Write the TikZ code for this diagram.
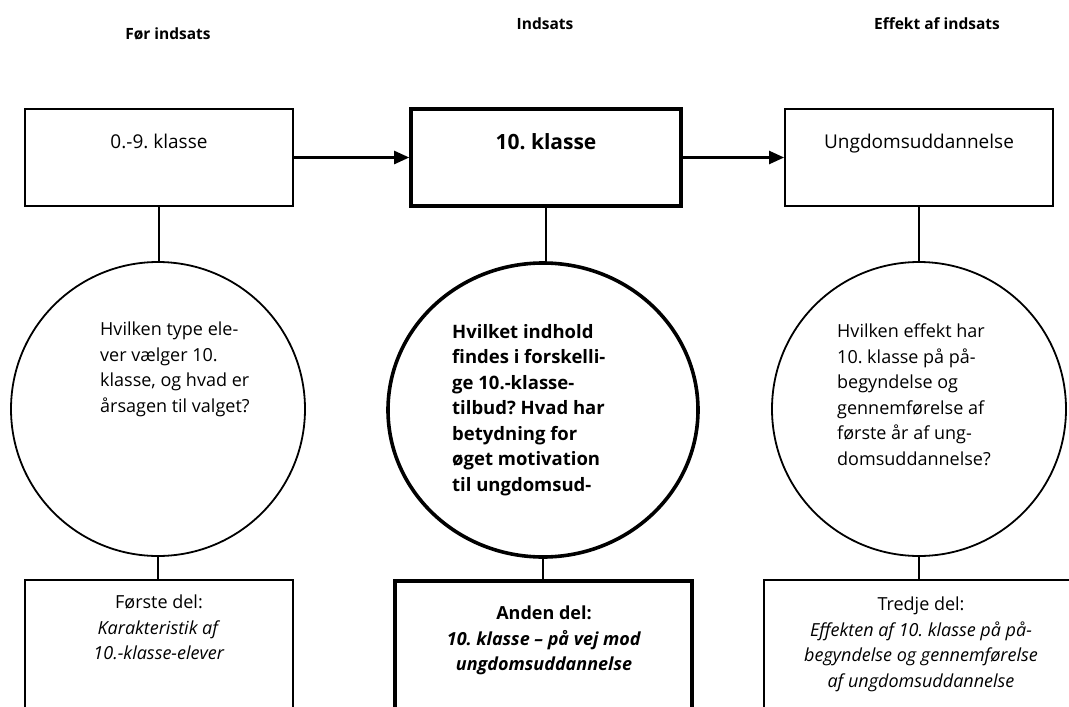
\documentclass[tikz,border=0pt]{standalone}
\usepackage{fontspec}
\setmainfont{Open Sans}
\usetikzlibrary{arrows.meta,shapes.geometric}
\frenchspacing
\begin{document}
\begin{tikzpicture}[x=1pt,y=-1pt,
  body/.style={font=\fontsize{18}{25.5}\selectfont},
  head/.style={font=\fontsize{15.5}{18}\selectfont\bfseries, anchor=base, inner sep=0pt},
  topbox/.style={draw, font=\fontsize{19}{25.5}\selectfont, line width=1.8pt, minimum width=268pt, inner xsep=0pt, inner ysep=0pt, text height=39pt, text depth=58pt},
  thickbox/.style={topbox, line width=3.6pt, minimum width=270pt, font=\fontsize{21}{25.5}\selectfont\bfseries, text height=40pt, text depth=57pt},
  botbox/.style={draw, line width=1.8pt, anchor=north, minimum height=200pt, inner sep=0pt},
  circ/.style={draw, circle, line width=1.8pt, minimum size=294pt, inner sep=0pt},
  ell/.style={draw, ellipse, line width=3.6pt, minimum width=310pt, minimum height=294pt, inner sep=0pt},
  qtext/.style={body, align=left, inner sep=0pt, anchor=north west},
  ptext/.style={body, align=center, inner sep=0pt, anchor=north},
  conn/.style={line width=2.6pt},
  arr/.style={line width=2.4pt, -{Triangle[length=15pt,width=13pt]}}
]
\useasboundingbox (0,0) rectangle (1069,707);
\clip (0,0) rectangle (1069,707);

% headers
\node[head] (h1) at (168,39) {Før indsats};
\node[head] (h2) at (545,29) {Indsats};
\node[head] (h3) at (937,29) {Effekt af indsats};

% top boxes
\node[topbox] (a) at (159,157.5) {0.-9. klasse};
\node[thickbox] (b) at (546,157.5) {10. klasse};
\node[topbox] (c) at (919,157.5) {Ungdomsuddannelse};

% circles
\node[circ] (ca) at (158,409) {};
\node[ell] (cb) at (543,410) {};
\node[circ] (cc) at (919,409) {};

% bottom boxes
\node[botbox, minimum width=268pt] (d) at (159,579) {};
\node[botbox, line width=3.6pt, minimum width=297pt] (e) at (543.5,579) {};
\node[botbox, minimum width=314pt] (f) at (921,579) {};

% arrows
\draw[arr] (a.east) -- (b.west);
\draw[arr] (b.east) -- (c.west);

% connectors
\draw[conn] (a.south) -- (a.south |- ca.north);
\draw[conn] (b.south) -- (b.south |- cb.north);
\draw[conn] (c.south) -- (c.south |- cc.north);
\draw[conn] (ca.south) -- (ca.south |- d.north);
\draw[conn] (cb.south) -- (cb.south |- e.north);
\draw[conn] (cc.south) -- (cc.south |- f.north);

% circle texts
\node[qtext] (ta) at (100,322) {Hvilken type ele-\\ver vælger 10.\\klasse, og hvad er\\årsagen til valget?};
\node[qtext, font=\fontsize{18.5}{25.5}\selectfont\bfseries] (tb) at (452,324) {Hvilket indhold\\findes i forskelli-\\ge 10.-klasse-\\tilbud? Hvad har\\betydning for\\øget motivation\\til ungdomsud-};
\node[qtext] (tc) at (837,324) {Hvilken effekt har\\10. klasse på på-\\begyndelse og\\gennemførelse af\\første år af ung-\\domsuddannelse?};

% bottom texts
\node[ptext] (td) at (159,595) {Første del:\\\textit{Karakteristik af}\\\textit{10.-klasse-elever}};
\node[ptext, font=\fontsize{18}{25.5}\selectfont\bfseries] (te) at (544,606) {Anden del:\\\textit{10. klasse – på vej mod}\\\textit{ungdomsuddannelse}};
\node[ptext] (tf) at (921,597) {Tredje del:\\\textit{Effekten af 10. klasse på på-}\\\textit{begyndelse og gennemførelse}\\\textit{af ungdomsuddannelse}};
\end{tikzpicture}
\end{document}
